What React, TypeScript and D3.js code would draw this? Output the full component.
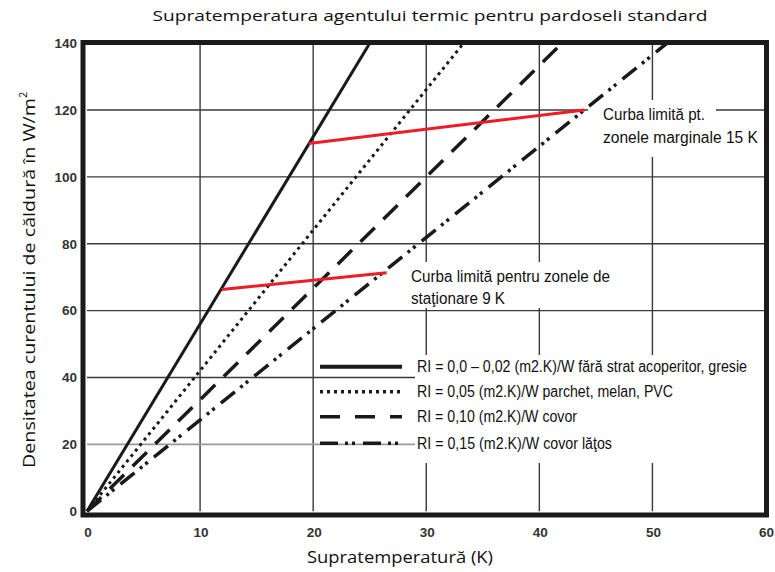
import React, { useEffect, useRef } from "react";
import * as d3 from "d3";

// axis ticks
const xTicks = [0, 10, 20, 30, 40, 50, 60];
const yTicks = [0, 20, 40, 60, 80, 100, 120, 140];

// one straight line per floor covering: supratemperatura (K) -> density (W/m2)
const seriesLabels = [
  "RI = 0,0 – 0,02 (m2.K)/W fără strat acoperitor, gresie",
  "RI = 0,05 (m2.K)/W parchet, melan, PVC",
  "RI = 0,10 (m2.K)/W covor",
  "RI = 0,15 (m2.K)/W covor lăţos",
];
const seriesTemp = [[0, 25.0], [0, 33.3], [0, 42.0], [0, 51.3]];
const seriesFlux = [[0, 140], [0, 140], [0, 140], [0, 140]];

// red limit curves
const limitLabels = [
  ["Curba limită pt.", " zonele marginale 15 K"],
  ["Curba limită pentru zonele de", "staţionare 9 K"],
];
const limitTemp = [[19.6, 44.0], [11.9, 26.5]];
const limitFlux = [[110, 120], [66.3, 71.3]];

const title = "Supratemperatura agentului termic pentru pardoseli standard";
const xTitle = "Supratemperatură (K)";
const yTitle = "Densitatea curentului de căldură în W/m";

const App = () => {
  const svgRef = useRef<SVGSVGElement | null>(null);

  useEffect(() => {
    const svg = d3.select(svgRef.current);
    svg.selectAll("*").remove();

    const x = d3.scaleLinear().domain([0, 60]).range([87, 765.5]);
    const y = d3.scaleLinear().domain([0, 140]).range([511.2, 43.2]);

    const sans = "'Liberation Sans', Arial, sans-serif";
    const calib = "'Open Sans', 'Noto Sans', sans-serif";

    // grid
    const grid = svg.append("g");
    grid.selectAll("line.vx")
      .data(xTicks.slice(1, -1))
      .join("line")
      .attr("x1", (d) => x(d)).attr("x2", (d) => x(d))
      .attr("y1", y(140)).attr("y2", y(0))
      .attr("stroke", "#3a3a3a").attr("stroke-width", 1.4);
    grid.selectAll("line.hy")
      .data(yTicks.slice(1, -1))
      .join("line")
      .attr("x1", x(0)).attr("x2", x(60))
      .attr("y1", (d) => y(d)).attr("y2", (d) => y(d))
      .attr("stroke", (d) => (d === 20 ? "#9a9a9a" : "#3a3a3a"))
      .attr("stroke-width", (d) => (d === 20 ? 1.8 : 1.4));

    // white boxes behind texts
    const boxes = [
      [588, 100, 128, 57],
      [407, 262, 215, 46],
      [415, 355, 350, 108],
    ];
    svg.append("g").selectAll("rect")
      .data(boxes)
      .join("rect")
      .attr("x", (d) => d[0]).attr("y", (d) => d[1])
      .attr("width", (d) => d[2]).attr("height", (d) => d[3])
      .attr("fill", "#fff");

    const dashes = ["none", "3,4", "20,12", "18,7,3,4,3,8"];
    const widths = [3, 3, 3.5, 3.5];

    const line = d3.line<[number, number]>()
      .x((d) => x(d[0]))
      .y((d) => y(d[1]));

    svg.append("g").selectAll("path")
      .data(seriesTemp.map((t, i) => t.map((v, j) => [v, seriesFlux[i][j]] as [number, number])))
      .join("path")
      .attr("d", (d) => line(d))
      .attr("fill", "none")
      .attr("stroke", "#1a1a1a")
      .attr("stroke-width", (_, i) => widths[i])
      .attr("stroke-dasharray", (_, i) => dashes[i]);

    svg.append("g").selectAll("path")
      .data(limitTemp.map((t, i) => t.map((v, j) => [v, limitFlux[i][j]] as [number, number])))
      .join("path")
      .attr("d", (d) => line(d))
      .attr("fill", "none")
      .attr("stroke", "#ee1c25")
      .attr("stroke-width", 3);

    // frame
    svg.append("rect")
      .attr("x", x(0) - 4).attr("y", y(140) - 0.7)
      .attr("width", x(60) - x(0) + 5).attr("height", y(0) - y(140) + 4.5)
      .attr("fill", "none").attr("stroke", "#1a1a1a").attr("stroke-width", 5);

    // tick labels
    svg.append("g").selectAll("text")
      .data(yTicks)
      .join("text")
      .attr("x", 77).attr("y", (d) => y(d))
      .attr("dy", "0.36em")
      .attr("text-anchor", "end")
      .attr("font-family", sans).attr("font-weight", "bold").attr("font-size", 13.5)
      .attr("fill", "#333")
      .text((d) => d);
    svg.append("g").selectAll("text")
      .data(xTicks)
      .join("text")
      .attr("x", (d) => x(d) + 1).attr("y", 537)
      .attr("text-anchor", "middle")
      .attr("font-family", sans).attr("font-weight", "bold").attr("font-size", 13.5)
      .attr("fill", "#333")
      .text((d) => d);

    // titles
    svg.append("text")
      .attr("x", 430).attr("y", 21)
      .attr("text-anchor", "middle")
      .attr("font-family", calib).attr("font-size", 15)
      .attr("textLength", 555).attr("lengthAdjust", "spacingAndGlyphs")
      .attr("fill", "#111")
      .text(title);
    svg.append("text")
      .attr("x", 400).attr("y", 563)
      .attr("text-anchor", "middle")
      .attr("font-family", calib).attr("font-size", 17)
      .attr("textLength", 186).attr("lengthAdjust", "spacingAndGlyphs")
      .attr("fill", "#111")
      .text(xTitle);
    const yt = svg.append("text")
      .attr("transform", "translate(35,468) rotate(-90)")
      .attr("font-family", calib).attr("font-size", 17)
      .attr("fill", "#111");
    yt.append("tspan")
      .attr("x", 0).attr("y", 0)
      .attr("textLength", 370).attr("lengthAdjust", "spacingAndGlyphs")
      .text(yTitle);
    yt.append("tspan")
      .attr("font-size", 11).attr("dy", -8)
      .text("2");

    // condensed text: smaller font stretched vertically
    const narrow = (px: number, py: number, len: number, size: number, s: string) => {
      svg.append("text")
        .attr("transform", `translate(${px},${py}) scale(1,1.2)`)
        .attr("font-family", sans).attr("font-size", size)
        .attr("textLength", len).attr("lengthAdjust", "spacingAndGlyphs")
        .attr("fill", "#111")
        .text(s);
    };

    // limit curve labels
    const limitPos = [[[603, 120, 102], [603, 143, 155]], [[411, 282, 199], [411, 304, 94]]];
    limitLabels.forEach((rows, i) => {
      rows.forEach((r, j) => {
        const [px, py, len] = limitPos[i][j];
        narrow(px, py, len, 13.5, r);
      });
    });

    // legend
    const rowY = [366.7, 391.7, 416.7, 443.3];
    const textLen = [330, 256, 160, 195];
    seriesLabels.forEach((lab, i) => {
      svg.append("line")
        .attr("x1", 320).attr("x2", 402)
        .attr("y1", rowY[i]).attr("y2", rowY[i])
        .attr("stroke", "#1a1a1a")
        .attr("stroke-width", i === 0 ? 4 : 3.5)
        .attr("stroke-dasharray", i === 2 ? "20,15" : dashes[i]);
      narrow(417, rowY[i] + 5.5, textLen[i], 13, lab);
    });
  }, []);

  return (
    <svg
      ref={svgRef}
      width={775}
      height={572}
      style={{ position: "absolute", left: 0, top: 0, background: "#fff" }}
    ></svg>
  );
};

export default App;
